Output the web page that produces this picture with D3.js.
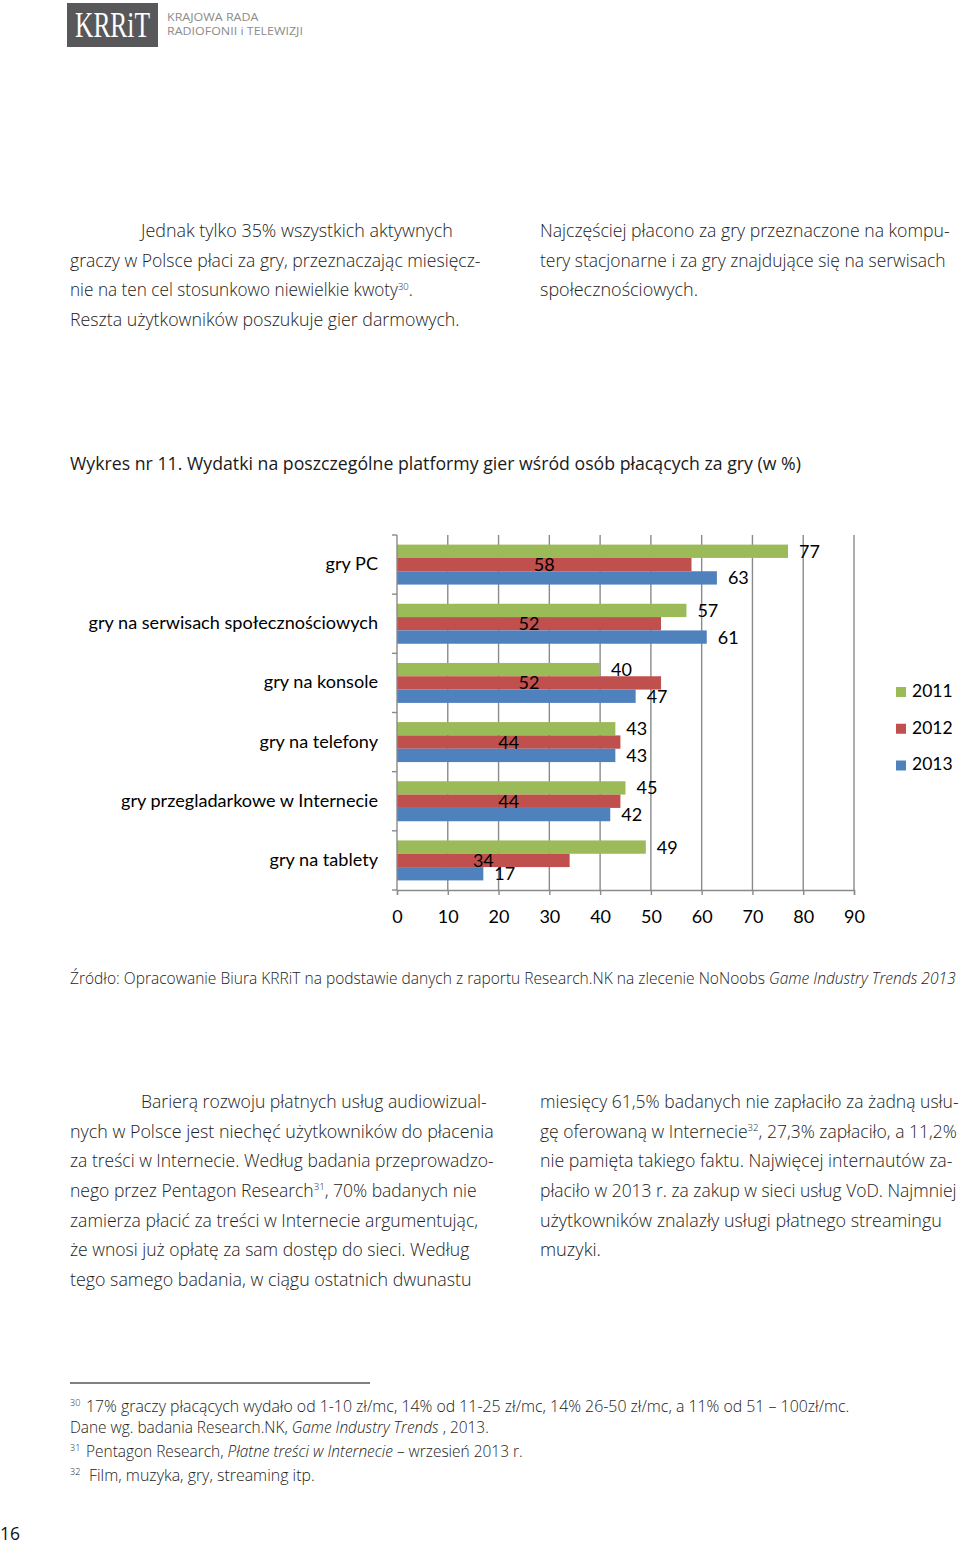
<!DOCTYPE html>
<html><head><meta charset="utf-8">
<script src="https://cdn.jsdelivr.net/npm/d3@7"></script>
<style>
html,body{margin:0;padding:0;background:#fff;}
svg{display:block;}
</style></head>
<body>
<script>
// ---------- DATA ----------
const categories = ["gry PC", "gry na serwisach społecznościowych", "gry na konsole", "gry na telefony", "gry przegladarkowe w Internecie", "gry na tablety"];
const years = ["2011", "2012", "2013"];
const values2011 = [77, 57, 40, 43, 45, 49];
const values2012 = [58, 52, 52, 44, 44, 34];
const values2013 = [63, 61, 47, 43, 42, 17];
const xTicks = [0, 10, 20, 30, 40, 50, 60, 70, 80, 90];
const seriesColors = ["#9BBB59", "#C0504D", "#4F81BD"];

const chartTitle = "Wykres nr 11. Wydatki na poszczególne platformy gier wśród osób płacących za gry (w %)";

// ---------- PAGE ----------
const svg = d3.select("body").append("svg").attr("width", 960).attr("height", 1544);
const BODY_FONT = "'Open Sans', 'Liberation Sans', sans-serif";
const CHART_FONT = "Lato, 'Open Sans', sans-serif";

// squeeze a text element horizontally to a target width anchored at x0
function fit(sel, x0, width) {
  const w = sel.node().getBBox().width;
  if (w > 0) {
    const s = width / w;
    sel.attr("transform", `translate(${x0},0) scale(${s},1) translate(${-x0},0)`);
  }
}

function textLine(spec, opts) {
  const t = svg.append("text")
    .attr("x", spec.x).attr("y", spec.y)
    .attr("font-family", opts.family || BODY_FONT)
    .attr("font-size", opts.size)
    .attr("font-weight", opts.weight || 400)
    .attr("fill", opts.fill || "#1f1f1f");
  spec.parts.forEach(p => {
    const ts = t.append("tspan").text(p.t);
    if (p.it) ts.attr("font-style", "italic");
    if (p.sup) ts.attr("font-size", opts.size * 0.55).attr("dy", -opts.size * 0.38);
    if (p.after) ts.attr("dy", opts.size * 0.38);
  });
  if (spec.w) fit(t, spec.x, spec.w);
  return t;
}

// header logo
svg.append("rect").attr("x", 67).attr("y", 3).attr("width", 91).attr("height", 44).attr("fill", "#58585a");
const logo = svg.append("text").attr("x", 75).attr("y", 37)
  .attr("font-family", "'Liberation Serif', 'DejaVu Serif', serif")
  .attr("font-size", 36).attr("fill", "#fff").text("KRRiT");
fit(logo, 75, 75);
textLine({x: 167, y: 21.5, w: 92, parts: [{t: "KRAJOWA RADA"}]}, {size: 10.5, fill: "#8c8c8c"});
textLine({x: 167, y: 35.5, w: 136, parts: [{t: "RADIOFONII i TELEWIZJI"}]}, {size: 10.5, fill: "#8c8c8c"});

// body text
const bodyOpts = {size: 18, weight: 300, fill: "#222"};
const topLines = [
  {x: 141, y: 237, w: 314, parts: [{t: "Jednak tylko 35% wszystkich aktywnych"}]},
  {x: 70, y: 267, w: 411, parts: [{t: "graczy w Polsce płaci za gry, przeznaczając miesięcz-"}]},
  {x: 70, y: 296.5, w: 343, parts: [{t: "nie na ten cel stosunkowo niewielkie kwoty"}, {t: "30", sup: true}, {t: ".", after: true}]},
  {x: 70, y: 326, w: 390, parts: [{t: "Reszta użytkowników poszukuje gier darmowych."}]},
  {x: 540, y: 237, w: 410, parts: [{t: "Najczęściej płacono za gry przeznaczone na kompu-"}]},
  {x: 540, y: 267, w: 406, parts: [{t: "tery stacjonarne i za gry znajdujące się na serwisach"}]},
  {x: 540, y: 296.5, w: 158, parts: [{t: "społecznościowych."}]}
];
topLines.forEach(l => textLine(l, bodyOpts));

// chart title
textLine({x: 70, y: 470.5, w: 731, parts: [{t: chartTitle}]}, {size: 18.5, weight: 400, fill: "#1a1a1a"});

// ---------- CHART ----------
const x = d3.scaleLinear().domain([0, 90]).range([397, 854]);
const y = d3.scaleBand().domain(categories).range([535, 890]);
const yInner = d3.scaleBand().domain(years).range([0, y.bandwidth()]).paddingOuter(0.72);
const color = d3.scaleOrdinal().domain(years).range(seriesColors);
const seriesValues = [values2011, values2012, values2013];

const chart = svg.append("g");

// gridlines
chart.append("g").selectAll("line").data(xTicks.filter(d => d > 0)).join("line")
  .attr("x1", d => x(d)).attr("x2", d => x(d))
  .attr("y1", 535).attr("y2", 890)
  .attr("stroke", "#8a8a8a").attr("stroke-width", 1.4);

// bars
const rows = [];
categories.forEach((c, i) => years.forEach((yr, j) => rows.push({cat: c, year: yr, j, v: seriesValues[j][i]})));
chart.append("g").selectAll("rect").data(rows).join("rect")
  .attr("x", x(0))
  .attr("y", d => y(d.cat) + yInner(d.year))
  .attr("width", d => x(d.v) - x(0))
  .attr("height", yInner.bandwidth())
  .attr("fill", d => color(d.year));

// value labels: 2012 centred inside, 2011/2013 outside end
chart.append("g").selectAll("text").data(rows).join("text")
  .attr("x", d => d.j === 1 ? (x(0) + x(d.v)) / 2 : x(d.v) + 11)
  .attr("y", d => y(d.cat) + yInner(d.year) + yInner.bandwidth() / 2)
  .attr("dy", "0.36em")
  .attr("text-anchor", d => d.j === 1 ? "middle" : "start")
  .attr("font-family", CHART_FONT).attr("font-size", 18).attr("fill", "#000")
  .text(d => d.v);

// left axis (category)
const yAxisG = chart.append("g");
yAxisG.append("line").attr("x1", x(0)).attr("x2", x(0)).attr("y1", 535).attr("y2", 890)
  .attr("stroke", "#8a8a8a").attr("stroke-width", 1.4);
const boundaries = categories.map(c => y(c)).concat([890]);
yAxisG.selectAll("line.t").data(boundaries).join("line").attr("class", "t")
  .attr("x1", x(0) - 5).attr("x2", x(0)).attr("y1", d => d).attr("y2", d => d)
  .attr("stroke", "#8a8a8a").attr("stroke-width", 1.4);
yAxisG.selectAll("text").data(categories).join("text")
  .attr("x", 378).attr("y", d => y(d) + y.bandwidth() / 2 - 1).attr("dy", "0.36em")
  .attr("text-anchor", "end")
  .attr("font-family", CHART_FONT).attr("font-size", 18.1).attr("fill", "#000")
  .text(d => d);

// bottom axis
const xAxisG = chart.append("g").attr("transform", "translate(0,890)");
xAxisG.call(d3.axisBottom(x).tickValues(xTicks).tickSize(5).tickPadding(15).tickFormat(d3.format("d")));
xAxisG.select(".domain").attr("stroke", "#8a8a8a").attr("stroke-width", 1.4);
xAxisG.selectAll(".tick line").attr("stroke", "#8a8a8a").attr("stroke-width", 1.4);
xAxisG.selectAll(".tick text").attr("font-family", CHART_FONT).attr("font-size", 18).attr("fill", "#000");

// legend
const legend = chart.append("g");
const legendY = d3.scalePoint().domain(years).range([692, 765.5]);
legend.selectAll("rect").data(years).join("rect")
  .attr("x", 896).attr("y", d => legendY(d) - 5).attr("width", 10).attr("height", 10)
  .attr("fill", d => color(d));
legend.selectAll("text").data(years).join("text")
  .attr("x", 912).attr("y", d => legendY(d) - 1.5).attr("dy", "0.36em")
  .attr("font-family", CHART_FONT).attr("font-size", 17.5).attr("fill", "#000")
  .text(d => d);

// source
textLine({x: 70, y: 984, w: 887, parts: [
  {t: "Źródło: Opracowanie Biura KRRiT na podstawie danych z raportu Research.NK na zlecenie NoNoobs "},
  {t: "Game Industry Trends 2013", it: true}]}, {size: 16, weight: 300, fill: "#222"});

// lower body text
const bottomLines = [
  {x: 141, y: 1108, w: 346, parts: [{t: "Barierą rozwoju płatnych usług audiowizual-"}]},
  {x: 70, y: 1138, w: 424, parts: [{t: "nych w Polsce jest niechęć użytkowników do płacenia"}]},
  {x: 70, y: 1167.5, w: 424, parts: [{t: "za treści w Internecie. Według badania przeprowadzo-"}]},
  {x: 70, y: 1197, w: 407, parts: [{t: "nego przez Pentagon Research"}, {t: "31", sup: true}, {t: ", 70% badanych nie", after: true}]},
  {x: 70, y: 1227, w: 408, parts: [{t: "zamierza płacić za treści w Internecie argumentując,"}]},
  {x: 70, y: 1256.5, w: 400, parts: [{t: "że wnosi już opłatę za sam dostęp do sieci. Według"}]},
  {x: 70, y: 1286, w: 402, parts: [{t: "tego samego badania, w ciągu ostatnich dwunastu"}]},
  {x: 540, y: 1108, w: 419, parts: [{t: "miesięcy 61,5% badanych nie zapłaciło za żadną usłu-"}]},
  {x: 540, y: 1138, w: 417, parts: [{t: "gę oferowaną w Internecie"}, {t: "32", sup: true}, {t: ", 27,3% zapłaciło, a 11,2%", after: true}]},
  {x: 540, y: 1167.5, w: 413, parts: [{t: "nie pamięta takiego faktu. Najwięcej internautów za-"}]},
  {x: 540, y: 1197, w: 417, parts: [{t: "płaciło w 2013 r. za zakup w sieci usług VoD. Najmniej"}]},
  {x: 540, y: 1227, w: 402, parts: [{t: "użytkowników znalazły usługi płatnego streamingu"}]},
  {x: 540, y: 1256.5, w: 61, parts: [{t: "muzyki."}]}
];
bottomLines.forEach(l => textLine(l, bodyOpts));

// footnotes
svg.append("line").attr("x1", 70).attr("x2", 370).attr("y1", 1383).attr("y2", 1383)
  .attr("stroke", "#000").attr("stroke-width", 1);
const fnOpts = {size: 16, weight: 300, fill: "#222"};
const supOpts = {size: 9, weight: 300, fill: "#222"};
textLine({x: 70, y: 1406, parts: [{t: "30"}]}, supOpts);
textLine({x: 86, y: 1412, w: 764, parts: [{t: "17% graczy płacących wydało od 1-10 zł/mc, 14% od 11-25 zł/mc, 14% 26-50 zł/mc, a 11% od 51 – 100zł/mc."}]}, fnOpts);
textLine({x: 70, y: 1433.5, w: 419, parts: [{t: "Dane wg. badania Research.NK, "}, {t: "Game Industry Trends", it: true}, {t: " , 2013."}]}, fnOpts);
textLine({x: 70, y: 1451, parts: [{t: "31"}]}, supOpts);
textLine({x: 86, y: 1457, w: 437, parts: [{t: "Pentagon Research, "}, {t: "Płatne treści w Internecie", it: true}, {t: " – wrzesień 2013 r."}]}, fnOpts);
textLine({x: 70, y: 1475, parts: [{t: "32"}]}, supOpts);
textLine({x: 89, y: 1481, w: 226, parts: [{t: "Film, muzyka, gry, streaming itp."}]}, fnOpts);

// page number
textLine({x: 0, y: 1540, w: 20, parts: [{t: "16"}]}, {size: 18, weight: 400, fill: "#111"});
</script>
</body></html>
